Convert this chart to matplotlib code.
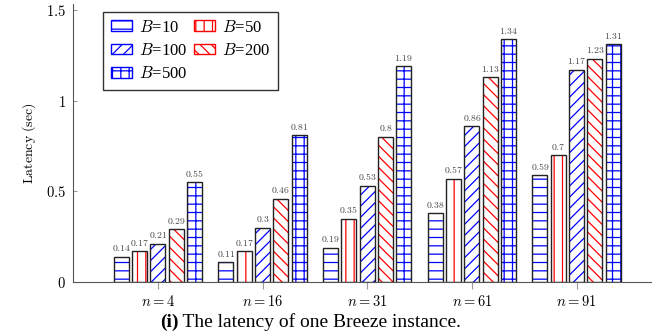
import numpy as np
import matplotlib
matplotlib.use('Agg')
import matplotlib.pyplot as plt
from matplotlib.patches import Patch

plt.rcParams['mathtext.fontset'] = 'cm'
plt.rcParams['font.family'] = ['Liberation Serif', 'DejaVu Serif']
plt.rcParams['hatch.linewidth'] = 0.9

groups = ['$n = 4$', '$n = 16$', '$n = 31$', '$n = 61$', '$n = 91$']
series = ['10', '50', '100', '200', '500']
b10 = [0.14, 0.11, 0.19, 0.38, 0.59]
b50 = [0.17, 0.17, 0.35, 0.57, 0.70]
b100 = [0.21, 0.30, 0.53, 0.86, 1.17]
b200 = [0.29, 0.46, 0.80, 1.13, 1.23]
b500 = [0.55, 0.81, 1.19, 1.34, 1.31]
values = [b10, b50, b100, b200, b500]
colors = ['blue', 'red', 'blue', 'red', 'blue']
hatches = ['--', '||', '///', '\\\\\\', '++']

fig = plt.figure(figsize=(6.52, 3.32), dpi=100)
ax = fig.add_axes([73/652, 50/332, 1 - 73/652, 278/332])

x = np.arange(len(groups))
width = 0.143
step = 0.175
handles = []
for i, vals in enumerate(values):
    pos = x + (i - 2) * step
    ax.bar(pos, vals, width, color='white', edgecolor=colors[i], hatch=hatches[i], linewidth=0)
    ax.bar(pos, vals, width, fill=False, edgecolor='#222222', linewidth=1.0)
    for p, v in zip(pos, vals):
        ax.annotate(f'${v:g}$', (p, v), xytext=(0, 2.5), textcoords='offset points',
                    ha='center', va='bottom', fontsize=7, color='#444444')
    handles.append(Patch(facecolor='white', edgecolor=colors[i], hatch=hatches[i],
                         label=f'$B$=' + series[i]))

ax.set_xlim(-0.81, 4.72)
ax.set_ylim(0, 1.533)
ax.set_xticks(x)
ax.set_xticklabels(groups, fontsize=10.5)
ax.set_yticks([0, 0.5, 1, 1.5])
ax.set_yticklabels(['$0$', '$0.5$', '$1$', '$1.5$'], fontsize=10.5)
ax.tick_params(axis='x', direction='out', length=5, color='#999999', pad=4)
ax.tick_params(axis='y', direction='in', length=3, color='#999999', pad=5)
ax.set_ylabel(r'$\mathrm{Latency\ (sec)}$', fontsize=10, labelpad=6)
for s in ['top', 'right']:
    ax.spines[s].set_visible(False)
for s in ['left', 'bottom']:
    ax.spines[s].set_color('#555555')

order = [0, 2, 4, 1, 3]
leg = fig.legend([handles[k] for k in order], [handles[k].get_label() for k in order],
                 ncol=2, loc='upper left', bbox_to_anchor=(103/652, 1 - 12/332),
                 borderaxespad=0, prop={'family': 'Liberation Serif', 'size': 12},
                 frameon=True, fancybox=False, framealpha=1,
                 edgecolor='#333333', handlelength=1.3, handleheight=0.6,
                 handletextpad=0.4, columnspacing=0.4, labelspacing=0.45,
                 borderpad=0.45)
leg.get_frame().set_linewidth(1.0)

t1 = fig.text(160/652, 1 - 322/332, '(i)', fontsize=14, fontweight='bold',
              ha='left', va='center')
ax.annotate(' The latency of one Breeze instance.', xy=(1, 0), xycoords=t1,
            ha='left', va='bottom', fontsize=14)

fig.savefig('out.png', dpi=100)
